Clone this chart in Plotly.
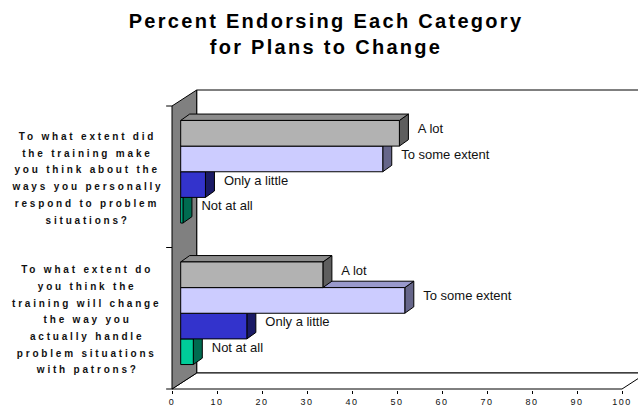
import plotly.graph_objects as go

# ---------------- data ----------------
question_lines = [
    ["To what extent do", "you think the", "training will change", "the way you",
     "actually handle", "problem situations", "with patrons?"],
    ["To what extent did", "the training make", "you think about the",
     "ways you personally", "respond to problem", "situations?"],
]
responses = ["A lot", "To some extent", "Only a little", "Not at all"]
a_lot = [31.6, 48.6]
to_some_extent = [49.8, 44.9]
only_a_little = [14.7, 5.5]
not_at_all = [2.8, 0.5]
x_ticks = [0, 10, 20, 30, 40, 50, 60, 70, 80, 90, 100]

series = [a_lot, to_some_extent, only_a_little, not_at_all]

# face colours per response: (front, top, side)
face_colors = [
    ("#B2B2B2", "#8C8C8C", "#5E5E5E"),
    ("#CCCCFF", "#9999CC", "#66668A"),
    ("#3333CC", "#26269A", "#1A1A66"),
    ("#00CC99", "#009973", "#006B50"),
]

# ---------------- geometry of the pseudo-3D frame ----------------
W, H = 638, 409
ML, MR, MT, MB = 160, 0, 86, 19
PX_X = 4.5          # pixels per percentage point
PX_Y = 141.5        # pixels per category band
ZERO_PX = 172       # pixel column of the value 0 on the front plane
WALL_DX, WALL_DY = 24.7 / PX_X, 16 / PX_Y
BAR_OX, BAR_OY = 8.7 / PX_X, 5 / PX_Y
BAR_DX, BAR_DY = 9 / PX_X, 6.4 / PX_Y
BAR_H = 25.65 / PX_Y
LABEL_GAP = 2.1
X_MAX = 100

plot_w = W - ML - MR
plot_h = H - MT - MB
x0 = -(ZERO_PX - ML) / PX_X
x_range = [x0, x0 + plot_w / PX_X]
y0 = -0.5 - 1 / PX_Y
y_range = [y0, y0 + plot_h / PX_Y]

fig = go.Figure()
LINE = dict(color="black", width=1)


def poly(xs, ys, fill, line=LINE):
    fig.add_trace(go.Scatter(
        x=list(xs) + [xs[0]], y=list(ys) + [ys[0]], mode="lines",
        fill="toself", fillcolor=fill, line=line,
        hoverinfo="skip", showlegend=False))


lo, hi = -0.5, len(question_lines) - 0.5

# back wall and floor
poly([WALL_DX, X_MAX + WALL_DX, X_MAX + WALL_DX, WALL_DX],
     [lo + WALL_DY, lo + WALL_DY, hi + WALL_DY, hi + WALL_DY], "white")
poly([0, X_MAX, X_MAX + WALL_DX, WALL_DX],
     [lo, lo, lo + WALL_DY, lo + WALL_DY], "white")
# left side wall
poly([0, 0, WALL_DX, WALL_DX],
     [lo, hi, hi + WALL_DY, lo + WALL_DY], "#808080")

# category tick marks on the wall's front edge
tick_x, tick_y = [], []
for b in range(len(question_lines) + 1):
    yb = lo + b
    tick_x += [-1.3, 0, None]
    tick_y += [yb, yb, None]
fig.add_trace(go.Scatter(x=tick_x, y=tick_y, mode="lines", line=LINE,
                         hoverinfo="skip", showlegend=False))

# bars drawn bottom-up so upper bars hide the tops of lower ones
label_x, label_y, label_t = [], [], []
for c in range(len(question_lines)):
    centre = c + BAR_OY
    for j in reversed(range(len(responses))):
        v = series[j][c]
        front_c, top_c, side_c = face_colors[j]
        xa, xb = BAR_OX, BAR_OX + v
        ya = centre + (1 - j) * BAR_H
        yb = ya + BAR_H
        poly([xb, xb + BAR_DX, xb + BAR_DX, xb],
             [ya, ya + BAR_DY, yb + BAR_DY, yb], side_c)
        poly([xa, xb, xb + BAR_DX, xa + BAR_DX],
             [yb, yb, yb + BAR_DY, yb + BAR_DY], top_c)
        poly([xa, xb, xb, xa], [ya, ya, yb, yb], front_c)
        label_x.append(xb + BAR_DX + LABEL_GAP)
        label_y.append((ya + yb) / 2 + BAR_DY / 2)
        label_t.append(responses[j])

fig.add_trace(go.Scatter(
    x=label_x, y=label_y, text=label_t, mode="text",
    textposition="middle right", cliponaxis=False,
    textfont=dict(family="Liberation Sans, Arial, sans-serif", size=13, color="#111111"),
    hoverinfo="skip", showlegend=False))

# question labels, one annotation per line, centred left of the wall
LINE_GAP = 16.7 / PX_Y
annotations = []
for c, lines in enumerate(question_lines):
    n = len(lines)
    for k, txt in enumerate(lines):
        annotations.append(dict(
            xref="paper", yref="y", x=(87 - ML) / plot_w,
            y=c + ((n - 1) / 2 - k) * LINE_GAP - 1.5 / PX_Y,
            text=txt, showarrow=False, xanchor="center", yanchor="middle",
            font=dict(family="Liberation Sans, Arial, sans-serif", size=10,
                      color="#111111", weight="bold")))

fig.update_layout(
    width=W, height=H,
    margin=dict(l=ML, r=MR, t=MT, b=MB, pad=0),
    paper_bgcolor="white", plot_bgcolor="white",
    title=dict(
        text="Percent Endorsing Each Category<br>for Plans to Change",
        xref="container", x=326 / W, xanchor="center",
        yref="container", y=1 - 28 / H, yanchor="top",
        font=dict(family="Liberation Sans, Arial, sans-serif", size=20,
                  color="black", weight="bold")),
    xaxis=dict(range=x_range, tickvals=x_ticks, ticktext=[str(t) for t in x_ticks],
               ticks="outside", ticklen=3, tickcolor="black", tickwidth=1,
               showline=False, showgrid=False, zeroline=False, fixedrange=True,
               tickfont=dict(family="Liberation Sans, Arial, sans-serif", size=9,
                             color="#111111")),
    yaxis=dict(range=y_range, showticklabels=False, ticks="", showline=False,
               showgrid=False, zeroline=False, fixedrange=True),
    annotations=annotations,
    hovermode=False,
)

SPACING_JS = """
var gd = document.getElementById('{plot_id}');
gd.querySelectorAll('g.annotation text').forEach(function(t){ t.style.letterSpacing = '2.8px'; });
gd.querySelectorAll('text.gtitle').forEach(function(t){ t.style.letterSpacing = '2.3px'; });
gd.querySelectorAll('g.xtick text').forEach(function(t){ t.style.letterSpacing = '1.5px'; });
"""

fig.write_html("out.html", config={"displayModeBar": False}, post_script=SPACING_JS)
